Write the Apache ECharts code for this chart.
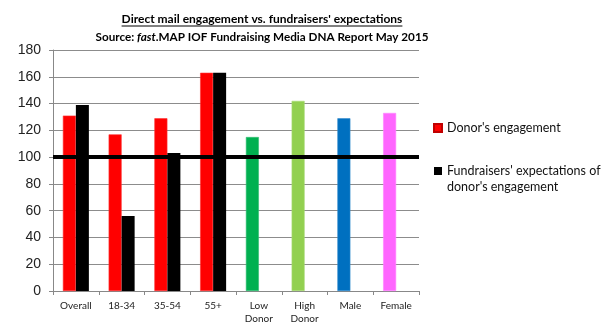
<!DOCTYPE html>
<html><head><meta charset="utf-8">
<script src="https://cdn.jsdelivr.net/npm/echarts@6/dist/echarts.min.js"></script>
<style>html,body{margin:0;padding:0;background:#fff}#c{width:602px;height:327px}</style>
</head><body><div id="c"></div>
<script>
// Chart data
const categories = ['Overall', '18-34', '35-54', '55+', 'Low\nDonor', 'High\nDonor', 'Male', 'Female'];
const engagement = [131, 117, 129, 163, 115, 142, 129, 133];
const expectations = [139, 56, 103, 163, null, null, null, null];
const yMin = 0, yMax = 180, yStep = 20;
const baselineValue = 100;
const seriesNames = ["Donor's engagement", "Fundraisers' expectations of donor's engagement"];
const titleText = "Direct mail engagement vs. fundraisers' expectations";

// Per-bar fill colours for the engagement series
const engagementColors = ['#ff0000', '#ff0000', '#ff0000', '#ff0000', '#00b050', '#92d050', '#0070c0', '#ff66ff'];

const TITLE_FONT = 'bold 12px Lato';
const cx = 262;

function textWidth(font, txt) {
  const ctx = document.createElement('canvas').getContext('2d');
  ctx.font = font;
  return ctx.measureText(txt).width;
}

const chart = echarts.init(document.getElementById('c'), null, { renderer: 'canvas' });
const tw = textWidth(TITLE_FONT, titleText);

chart.setOption({
  animation: false,
  backgroundColor: '#fff',
  grid: { left: 53, right: 183, top: 50, bottom: 36, containLabel: false },
  xAxis: {
    type: 'category',
    data: categories,
    axisLine: { show: true, lineStyle: { color: '#888', width: 1 } },
    axisTick: { show: true, length: 4, lineStyle: { color: '#888' } },
    axisLabel: { color: '#222', fontFamily: 'Lato', fontSize: 10, margin: 8, lineHeight: 13, interval: 0 },
    splitLine: { show: false }
  },
  yAxis: {
    type: 'value',
    min: yMin, max: yMax, interval: yStep,
    axisLine: { show: true, lineStyle: { color: '#888', width: 1 } },
    axisTick: { show: true, length: 4, lineStyle: { color: '#888' } },
    axisLabel: { color: '#222', fontFamily: 'Liberation Sans', fontSize: 14, margin: 12 },
    splitLine: { show: true, lineStyle: { color: '#8c8c8c', width: 1 } }
  },
  legend: {
    orient: 'vertical',
    left: 433,
    top: 120,
    padding: 0,
    itemWidth: 8,
    itemHeight: 8,
    itemGap: 11,
    icon: 'rect',
    selectedMode: false,
    // the long name wraps; a blank first line keeps the square beside its first line
    formatter: name => name.indexOf(' of ') > 0 ? ' \n' + name.replace(' of ', ' of\n') : name,
    textStyle: { fontFamily: 'Lato', fontSize: 12.5, color: '#111', lineHeight: 16 },
    data: [seriesNames[0], seriesNames[1]]
  },
  series: [
    {
      name: seriesNames[0],
      type: 'bar',
      barWidth: 13,
      barGap: '0%',
      itemStyle: { color: '#ff0000', borderColor: '#c00000', borderWidth: 0.6 },
      data: engagement.map((v, i) => ({
        value: v,
        itemStyle: { color: engagementColors[i], borderColor: echarts.color.lift(engagementColors[i], 0.2) }
      })),
      markLine: {
        silent: true,
        symbol: 'none',
        label: { show: false },
        lineStyle: { color: '#000', width: 4, type: 'solid' },
        data: [{ yAxis: baselineValue }]
      }
    },
    {
      name: seriesNames[1],
      type: 'bar',
      barWidth: 13,
      barGap: '0%',
      itemStyle: { color: '#000' },
      data: expectations
    }
  ],
  graphic: [
    {
      type: 'text', x: cx, y: 19,
      style: { text: titleText, font: TITLE_FONT, fill: '#000', align: 'center', verticalAlign: 'middle' }
    },
    {
      type: 'line',
      shape: { x1: cx - tw / 2, y1: 26, x2: cx + tw / 2, y2: 26 },
      style: { stroke: '#000', lineWidth: 1 }
    },
    {
      type: 'text', x: cx, y: 37,
      style: {
        text: '{b|Source: }{i|fast}{b|.MAP IOF Fundraising Media DNA Report May 2015}',
        align: 'center', verticalAlign: 'middle',
        rich: {
          b: { font: 'bold 11.7px Lato', fill: '#000' },
          i: { font: 'italic bold 11.7px Lato', fill: '#000' }
        }
      }
    }
  ]
});
</script></body></html>
